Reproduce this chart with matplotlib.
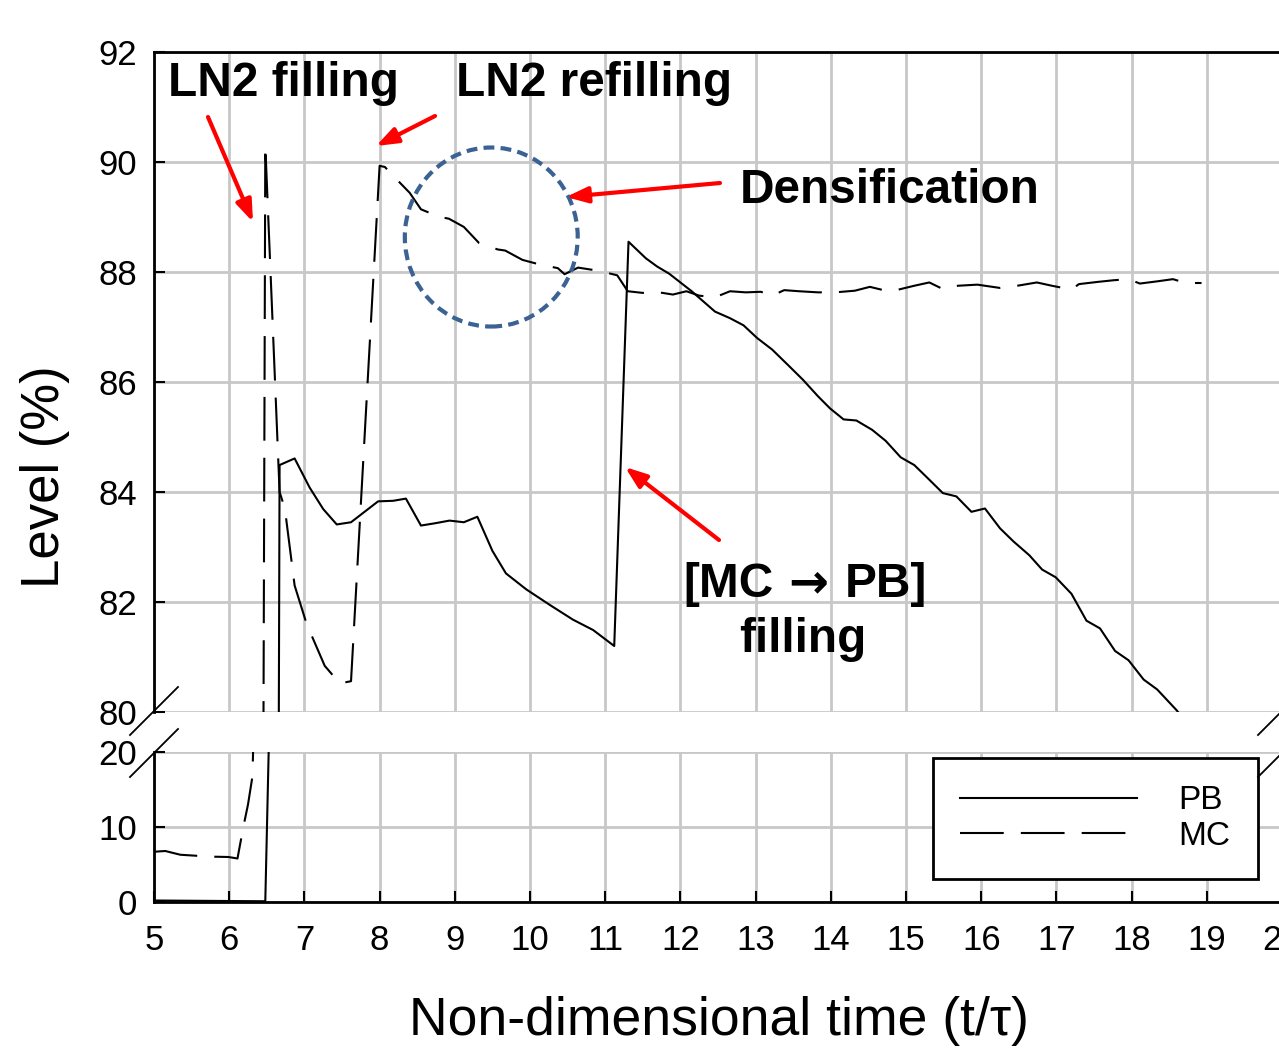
import matplotlib
matplotlib.use('Agg')
import matplotlib.pyplot as plt
from matplotlib.patches import Ellipse, FancyArrowPatch
from matplotlib.lines import Line2D

plt.rcParams['font.family'] = ['Liberation Sans', 'DejaVu Sans']

# ---------------- data ----------------
pb_x = [5.0, 6.48, 6.67, 6.87, 7.07, 7.25, 7.43, 7.62, 7.98, 8.18, 8.35, 8.55, 8.73,
        8.93, 9.12, 9.3, 9.5, 9.68, 9.95, 10.26, 10.57, 10.84, 11.12, 11.31, 11.54,
        11.69, 11.85, 12.15, 12.46, 12.66, 12.84, 13.02, 13.22, 13.43, 13.63, 13.83,
        13.99, 14.17, 14.34, 14.55, 14.73, 14.93, 15.11, 15.29, 15.49, 15.67, 15.87,
        16.05, 16.25, 16.43, 16.64, 16.81, 16.99, 17.2, 17.4, 17.58, 17.78, 17.96,
        18.16, 18.34, 18.6, 18.7]
pb_y = [0.2, 0.1, 84.49, 84.61, 84.08, 83.69, 83.41, 83.45, 83.83, 83.84, 83.88,
        83.39, 83.43, 83.48, 83.45, 83.55, 82.93, 82.52, 82.23, 81.95, 81.68, 81.49,
        81.2, 88.55, 88.25, 88.1, 87.97, 87.65, 87.28, 87.16, 87.03, 86.8, 86.59,
        86.31, 86.04, 85.74, 85.52, 85.32, 85.3, 85.13, 84.93, 84.63, 84.49, 84.25,
        83.98, 83.92, 83.64, 83.7, 83.34, 83.1, 82.85, 82.59, 82.45, 82.15, 81.66,
        81.52, 81.11, 80.94, 80.59, 80.41, 80.03, 79.85]

mc_x = [5.0, 5.15, 5.35, 5.75, 5.99, 6.11, 6.19, 6.25, 6.31, 6.48, 6.67, 6.74, 6.87,
        7.03, 7.27, 7.47, 7.62, 8.0, 8.07, 8.18, 8.4, 8.55, 8.8, 8.92, 9.12, 9.32,
        9.57, 9.67, 9.9, 10.12, 10.37, 10.46, 10.64, 10.92, 11.16, 11.3, 11.5, 11.67,
        11.9, 12.08, 12.25, 12.46, 12.66, 12.87, 13.07, 13.22, 13.38, 13.58, 13.83,
        14.06, 14.32, 14.52, 14.73, 14.9, 15.11, 15.31, 15.49, 15.69, 15.95, 16.25,
        16.48, 16.74, 16.94, 17.2, 17.3, 17.55, 17.76, 17.96, 18.11, 18.34, 18.55,
        18.72, 18.93]
mc_y = [6.7, 6.8, 6.3, 6.05, 6.0, 5.8, 10.1, 13.0, 16.8, 90.3, 84.0, 83.7, 82.3,
        81.6, 80.84, 80.52, 80.56, 89.93, 89.91, 89.75, 89.44, 89.14, 89.0, 88.97,
        88.82, 88.53, 88.41, 88.39, 88.22, 88.14, 88.07, 87.96, 88.08, 88.02, 87.94,
        87.65, 87.62, 87.64, 87.59, 87.65, 87.57, 87.54, 87.65, 87.63, 87.64, 87.57,
        87.67, 87.65, 87.63, 87.63, 87.66, 87.73, 87.66, 87.68, 87.75, 87.81, 87.69,
        87.75, 87.77, 87.71, 87.75, 87.81, 87.75, 87.68, 87.78, 87.82, 87.85, 87.87,
        87.79, 87.83, 87.87, 87.8, 87.8]

series_labels = ['PB', 'MC']
x_ticks = list(range(5, 21))
top_yticks = [80, 82, 84, 86, 88, 90, 92]
bot_yticks = [0, 10, 20]

# ---------------- layout ----------------
W, H = 1279, 1048
fig = plt.figure(figsize=(W / 100, H / 100), dpi=100)


def fx(px):
    return px / W


def fy(py):
    return 1 - py / H


L, R = 154, 1282
ax_t = fig.add_axes([fx(L), fy(712), (R - L) / W, (712 - 52) / H])
ax_b = fig.add_axes([fx(L), fy(902), (R - L) / W, (902 - 752) / H])

dash = (0, (21, 8.2))
for ax in (ax_t, ax_b):
    ax.plot(pb_x, pb_y, color='black', lw=1.5, label=series_labels[0])
    ax.plot(mc_x, mc_y, color='black', lw=1.5, linestyle=dash, label=series_labels[1])
    ax.set_xlim(5, 20)
    ax.set_xticks(x_ticks)
    ax.grid(True, color='#C8C8C8', lw=2)
    ax.set_axisbelow(True)
    ax.tick_params(direction='in', length=8, width=1.5, labelsize=25, pad=12,
                   colors='black')
    ax.spines['right'].set_visible(False)
    for s in ax.spines.values():
        s.set_linewidth(2)

ax_t.set_ylim(80, 92)
ax_t.set_yticks(top_yticks)
ax_t.spines['bottom'].set_visible(False)
ax_t.tick_params(axis='x', bottom=False, labelbottom=False)

ax_b.set_ylim(0, 20)
ax_b.set_yticks(bot_yticks)
ax_b.spines['top'].set_visible(False)
ax_b.tick_params(axis='x', pad=16)

# break marks
for cx in (L, R):
    for cy in (711, 753):
        fig.add_artist(Line2D([fx(cx - 24), fx(cx + 24)], [fy(cy + 24), fy(cy - 24)],
                              transform=fig.transFigure, color='black', lw=1.3,
                              clip_on=False))

# legend
leg = ax_b.legend(loc='upper left', bbox_to_anchor=(fx(933), fy(758)),
                  bbox_transform=fig.transFigure, fontsize=24, handlelength=5.3,
                  handletextpad=1.25, labelspacing=0.14, borderpad=0.82,
                  borderaxespad=0, fancybox=False, framealpha=1, edgecolor='black')
leg.get_frame().set_linewidth(2)

# axis labels
fig.text(fx(45), fy(477), 'Level (%)', rotation=90, fontsize=38, ha='center', va='center')
fig.text(fx(719), fy(1021), 'Non-dimensional time (t/τ)', fontsize=38.5,
         ha='center', va='center')

# annotations
bold = dict(fontsize=34.4, fontweight='bold', color='black')
fig.text(fx(168), fy(96), 'LN2 filling', ha='left', va='baseline', **bold)
fig.text(fx(456), fy(96), 'LN2 refilling', ha='left', va='baseline', **bold)
fig.text(fx(740), fy(203), 'Densification', ha='left', va='baseline', **bold)
fig.text(fx(683), fy(597), '[MC', ha='left', va='baseline', **bold)
fig.text(fx(808), fy(597), '→', ha='center', va='baseline',
         family=['DejaVu Sans'], **bold)
fig.text(fx(927), fy(597), 'PB]', ha='right', va='baseline', **bold)
fig.text(fx(803), fy(652), 'filling', ha='center', va='baseline', **bold)

arrows = [((208, 117), (253, 222)),
          ((435, 116), (376, 146)),
          ((720, 183), (566, 197)),
          ((719, 540), (625, 467))]
for (tx, ty), (hx, hy) in arrows:
    fig.add_artist(FancyArrowPatch(
        (fx(tx), fy(ty)), (fx(hx), fy(hy)), transform=fig.transFigure,
        arrowstyle='-|>,head_length=0.65,head_width=0.24', mutation_scale=20,
        color='#FF0000', lw=3, shrinkA=0, shrinkB=0))

# densification circle
ax_t.add_patch(Ellipse((9.485, 88.636), 2.299, 3.255, fill=False,
                       edgecolor='#3B6292', lw=3, linestyle=(0, (2.6, 1.5)),
                       clip_on=False, zorder=5))

fig.savefig('out.png', dpi=100)
